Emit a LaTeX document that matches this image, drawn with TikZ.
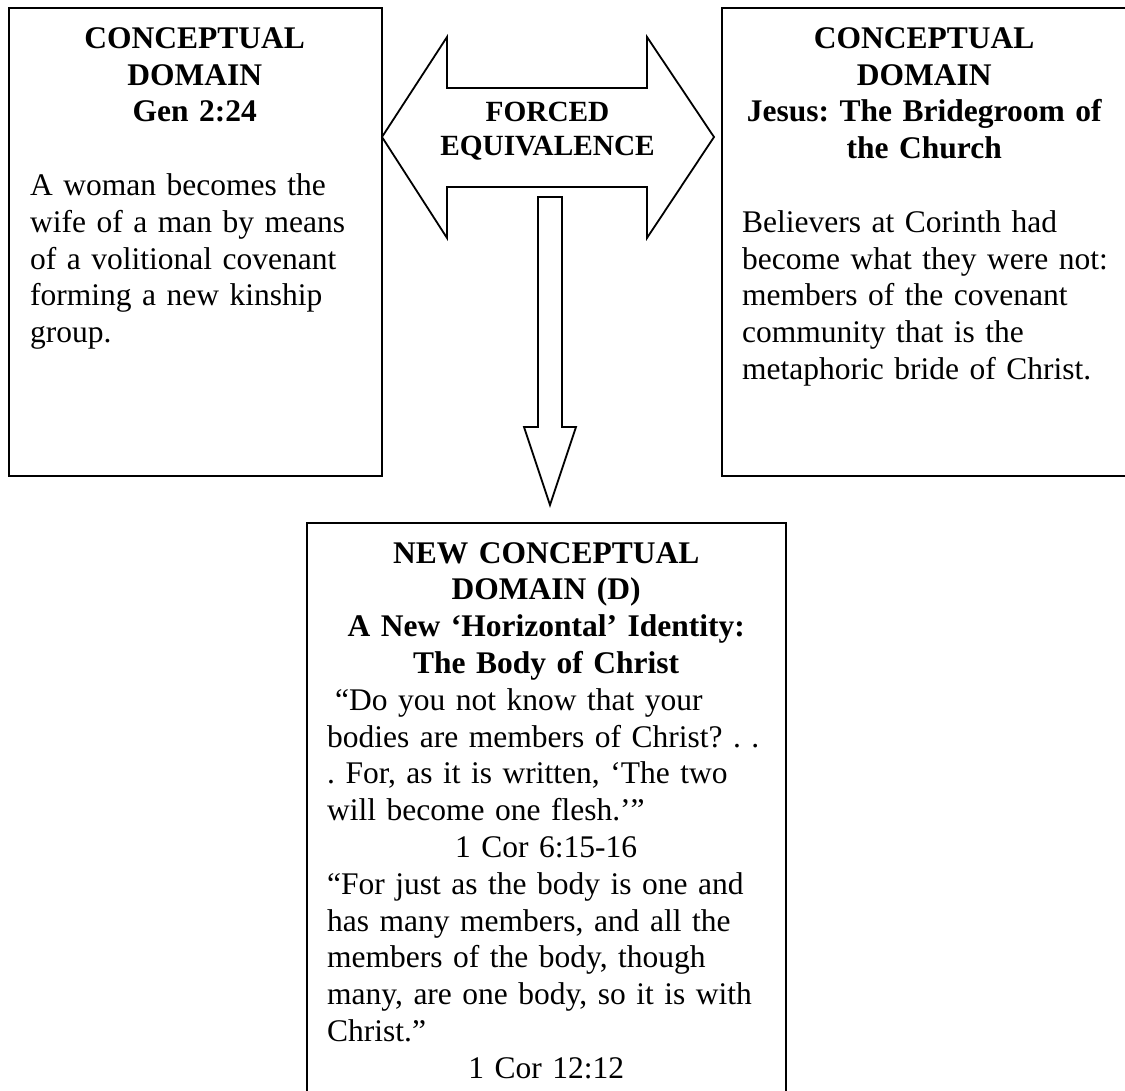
\documentclass[tikz,border=0pt]{standalone}
\usepackage{fontspec}
\setmainfont{Liberation Serif}
\begin{document}
\begin{tikzpicture}[x=1pt,y=-1pt,
  panel/.style={draw, line width=1.8pt, rectangle, inner sep=0pt, anchor=north west},
  txt/.style={inner sep=0pt, anchor=base west,
    font=\fontsize{31.5}{36.8}\selectfont\frenchspacing},
  arrowshape/.style={draw, line width=1.8pt, fill=white, line join=miter}]
\clip (0,0) rectangle (1125,1091);

% the three domain panels
\node[panel, minimum width=373pt, minimum height=468pt] (leftbox) at (8,7) {};
\node[panel, minimum width=406pt, minimum height=468pt] (rightbox) at (721,7) {};
\node[panel, minimum width=479pt, minimum height=620pt] (bottombox) at (306,522) {};

% downward block arrow into the new domain
\draw[arrowshape] (538,197) -- (562,197) -- (562,427) -- (576,427)
  -- (550,505) -- (524,427) -- (538,427) -- cycle;

% two-headed block arrow between the two domains
\draw[arrowshape] (382,137) -- (447,37) -- (447,88) -- (647,88) -- (647,37)
  -- (714,137) -- (647,238) -- (647,187) -- (447,187) -- (447,238) -- cycle;

\node[inner sep=0pt, anchor=base, text width=260pt,
  font=\fontsize{29.3}{33.7}\selectfont\bfseries] (arrowtext) at (547.5,122)
  {{\centering FORCED\\EQUIVALENCE\par}};

% left panel (body lines are set flush left with fixed breaks)
\node[txt, text width=329pt] (lefttext) at (30,48.3)
  {{\centering\bfseries CONCEPTUAL\\DOMAIN\\Gen 2:24\par}\vspace{36.8pt}%
   {\raggedright\hsize=600pt A woman becomes the\\wife of a man by means\\of a volitional covenant\\forming a new kinship\\group.\par}};

% right panel
\node[txt, text width=364pt] (righttext) at (742,48.3)
  {{\centering\bfseries CONCEPTUAL\\DOMAIN\\Jesus: The Bridegroom of\\the Church\par}\vspace{36.8pt}%
   {\raggedright\hsize=600pt Believers at Corinth had\\become what they were not:\\members of the covenant\\community that is the\\metaphoric bride of Christ.\par}};

% new domain panel
\node[txt, text width=438pt] (bottomtext) at (327,563)
  {{\centering\bfseries NEW CONCEPTUAL\\DOMAIN (D)\\A New ‘Horizontal’ Identity:\\The Body of Christ\par}%
   {\raggedright\hsize=600pt\hspace*{8pt}“Do you not know that your\\bodies are members of Christ? . .\\. For, as it is written, ‘The two\\will become one flesh.’”\par}%
   {\centering 1 Cor 6:15-16\par}%
   {\raggedright\hsize=600pt “For just as the body is one and\\has many members, and all the\\members of the body, though\\many, are one body, so it is with\\Christ.”\par}%
   {\centering 1 Cor 12:12\par}};
\end{tikzpicture}
\end{document}
